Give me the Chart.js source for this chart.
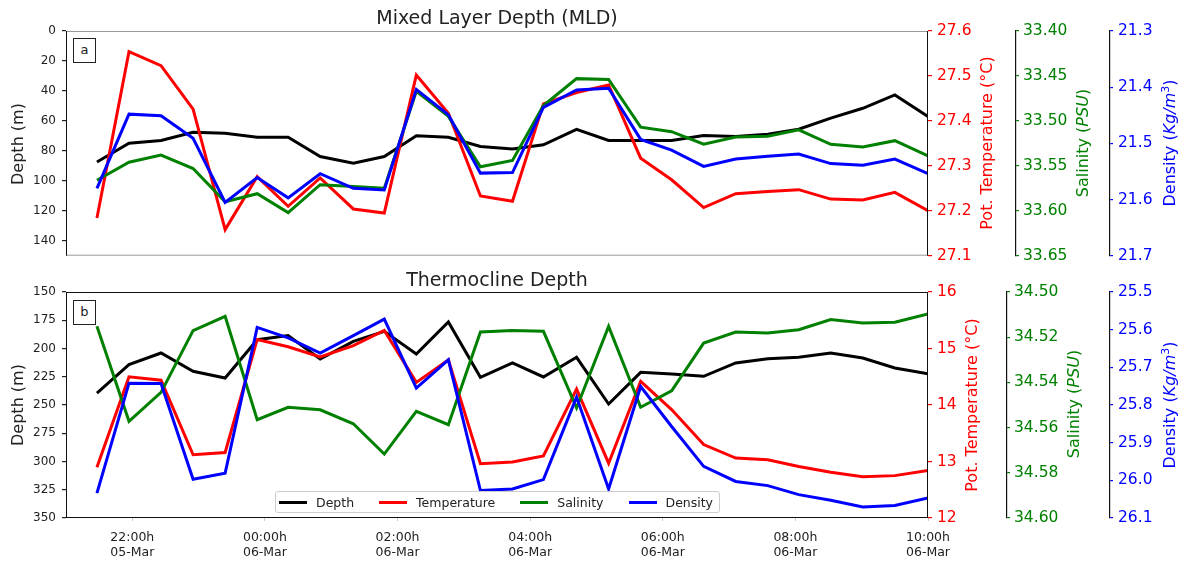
<!DOCTYPE html>
<html>
<head>
<meta charset="utf-8">
<title>MLD and Thermocline Depth</title>
<script src="https://cdn.jsdelivr.net/npm/chart.js@4.4.1/dist/chart.umd.min.js"></script>
<style>
  body { margin: 0; background: #fff; font-family: "DejaVu Sans", sans-serif; }
  #wrap { position: relative; width: 1183px; height: 563px; overflow: hidden; }
  canvas { position: absolute; left: 0; }
  .ttl { position: absolute; font-size: 19px; line-height: 19px; color: #222; transform: translateX(-50%); white-space: nowrap; }
  .ax { position: absolute; font-size: 16px; line-height: 16px; white-space: nowrap; transform: translate(-50%, -50%) rotate(-90deg); }
  .ax sup { font-size: 11px; line-height: 0; }
  .tag { position: absolute; box-sizing: border-box; border: 1px solid #222; width: 23px; height: 25px; font-size: 13px; line-height: 22px; text-align: center; color: #222; background: #fff; }
  #legend { position: absolute; left: 275px; top: 491px; width: 445px; height: 22px; box-sizing: border-box;
            border: 1px solid #ccc; border-radius: 3px; background: rgba(255,255,255,0.85);
            display: flex; align-items: center; padding-left: 3px; font-size: 12.5px; color: #222; }
  #legend .it { display: flex; align-items: center; margin-right: 25px; }
  #legend .it i { display: inline-block; width: 28px; height: 3px; margin-right: 9px; }
</style>
</head>
<body>
<div id="wrap">
  <canvas id="mldChart" width="1183" height="270" style="top:0"></canvas>
  <canvas id="thermoChart" width="1183" height="293" style="top:270px"></canvas>

  <div class="ttl" style="left:497px; top:8px">Mixed Layer Depth (MLD)</div>
  <div class="ttl" style="left:497px; top:270px">Thermocline Depth</div>
  <div class="tag" style="left:73px; top:38px">a</div>
  <div class="tag" style="left:73px; top:300px">b</div>

  <div class="ax" style="left:18px; top:144px; color:#222">Depth (m)</div>
  <div class="ax" style="left:987px; top:143px; color:#ff0000">Pot. Temperature (°C)</div>
  <div class="ax" style="left:1083px; top:143px; color:#008000">Salinity (<i>PSU</i>)</div>
  <div class="ax" style="left:1170px; top:143px; color:#0000ff">Density (<i>Kg/m</i><sup>3</sup>)</div>

  <div class="ax" style="left:18px; top:405px; color:#222">Depth (m)</div>
  <div class="ax" style="left:972px; top:405px; color:#ff0000">Pot. Temperature (°C)</div>
  <div class="ax" style="left:1074px; top:404px; color:#008000">Salinity (<i>PSU</i>)</div>
  <div class="ax" style="left:1170px; top:405px; color:#0000ff">Density (<i>Kg/m</i><sup>3</sup>)</div>

  <div id="legend"></div>
</div>

<script>
// sample times (05-Mar evening -> 06-Mar morning)
const times = ['21:28', '21:57', '22:26', '22:55', '23:24', '23:53', '00:21', '00:50', '01:20',
               '01:48', '02:17', '02:46', '03:15', '03:44', '04:12', '04:42', '05:11', '05:40',
               '06:08', '06:37', '07:06', '07:35', '08:03', '08:32', '09:01', '09:30', '10:00'];

// Mixed layer depth panel
const mldDepth = [87.5, 74.9, 73.1, 67.6, 68.2, 70.9, 70.9, 83.8, 88.2, 83.8, 70.0, 70.9, 77.1, 78.7,
                  76.0, 65.6, 73.1, 73.1, 73.1, 69.8, 70.4, 68.9, 65.6, 58.2, 51.6, 42.7, 57.1];
const mldTemp = [27.184, 27.554, 27.523, 27.426, 27.158, 27.276, 27.210, 27.273, 27.204, 27.195, 27.502,
                 27.417, 27.233, 27.221, 27.438, 27.463, 27.480, 27.317, 27.269, 27.207, 27.238, 27.243,
                 27.247, 27.226, 27.224, 27.241, 27.200];
const mldSal = [33.566, 33.546, 33.538, 33.553, 33.590, 33.581, 33.602, 33.571, 33.573, 33.575, 33.467,
                33.495, 33.551, 33.544, 33.483, 33.453, 33.454, 33.507, 33.512, 33.526, 33.518, 33.517,
                33.510, 33.526, 33.529, 33.522, 33.539];
const mldDen = [21.580, 21.448, 21.451, 21.491, 21.605, 21.561, 21.597, 21.554, 21.580, 21.583, 21.404,
                21.449, 21.553, 21.552, 21.436, 21.405, 21.402, 21.493, 21.512, 21.541, 21.528, 21.523,
                21.519, 21.536, 21.539, 21.528, 21.554];

// Thermocline depth panel
const thDepth = [239.4, 214.3, 204.0, 220.2, 226.1, 192.2, 188.6, 209.3, 193.7, 184.8, 204.9, 176.6,
                 225.5, 212.8, 225.2, 207.8, 249.1, 221.1, 222.6, 224.6, 212.8, 209.0, 207.8, 204.0,
                 208.4, 217.3, 222.3];
const thTemp = [12.90, 14.50, 14.44, 13.12, 13.16, 15.16, 15.03, 14.85, 15.05, 15.32, 14.40, 14.80,
                12.96, 12.99, 13.10, 14.28, 12.97, 14.42, 13.92, 13.30, 13.06, 13.03, 12.91, 12.81,
                12.73, 12.75, 12.84];
const thSal = [34.5152, 34.5572, 34.5444, 34.5171, 34.5108, 34.5565, 34.5510, 34.5521, 34.5583, 34.5717,
               34.5528, 34.5587, 34.5177, 34.5170, 34.5174, 34.5513, 34.5152, 34.5510, 34.5437, 34.5226,
               34.5177, 34.5181, 34.5167, 34.5122, 34.5137, 34.5134, 34.5097];
const thDen = [26.034, 25.742, 25.743, 25.997, 25.981, 25.594, 25.622, 25.662, 25.616, 25.572, 25.755,
               25.680, 26.027, 26.023, 25.998, 25.779, 26.023, 25.751, 25.857, 25.963, 26.003, 26.014,
               26.038, 26.053, 26.071, 26.067, 26.047];

// axis ticks
const xTickHours = [-2, 0, 2, 4, 6, 8, 10];
const xTickTimes = ['22:00h', '00:00h', '02:00h', '04:00h', '06:00h', '08:00h', '10:00h'];
const xTickDays = ['05-Mar', '06-Mar', '06-Mar', '06-Mar', '06-Mar', '06-Mar', '06-Mar'];

const mldDepthTicks = [0, 20, 40, 60, 80, 100, 120, 140];
const mldTempTicks = [27.1, 27.2, 27.3, 27.4, 27.5, 27.6];
const mldSalTicks = [33.40, 33.45, 33.50, 33.55, 33.60, 33.65];
const mldDenTicks = [21.3, 21.4, 21.5, 21.6, 21.7];

const thDepthTicks = [150, 175, 200, 225, 250, 275, 300, 325, 350];
const thTempTicks = [12, 13, 14, 15, 16];
const thSalTicks = [34.50, 34.52, 34.54, 34.56, 34.58, 34.60];
const thDenTicks = [25.5, 25.6, 25.7, 25.8, 25.9, 26.0, 26.1];

const names = ['Depth', 'Temperature', 'Salinity', 'Density'];
const colors = ['#000000', '#ff0000', '#008000', '#0000ff'];

Chart.defaults.font.family = '"DejaVu Sans", sans-serif';
Chart.defaults.color = '#222';

function toHours(t) {
    const [h, m] = t.split(':').map(Number);
    return (h >= 12 ? h - 24 : h) + m / 60;
}

function points(values) {
    return values.map((v, i) => ({ x: toHours(times[i]), y: v }));
}

// draws the box around the plot area
const frame = {
    id: 'frame',
    afterDatasetsDraw(chart, args, opts) {
        const { ctx, chartArea: a } = chart;
        ctx.save();
        ctx.lineWidth = 1;
        ctx.strokeStyle = opts.topBottom;
        ctx.beginPath();
        ctx.moveTo(a.left, a.top + 0.5); ctx.lineTo(a.right, a.top + 0.5);
        ctx.moveTo(a.left, a.bottom - 0.5); ctx.lineTo(a.right, a.bottom - 0.5);
        ctx.stroke();
        ctx.strokeStyle = '#111';
        ctx.beginPath();
        ctx.moveTo(a.left + 0.5, a.top); ctx.lineTo(a.left + 0.5, a.bottom);
        ctx.moveTo(a.right - 0.5, a.top); ctx.lineTo(a.right - 0.5, a.bottom);
        ctx.stroke();
        ctx.restore();
    }
};

function yAxis(pos, weight, width, min, max, reverse, tickList, decimals, color, size, pad, tickLen, border) {
    return {
        type: 'linear', position: pos, weight: weight, min: min, max: max, reverse: reverse,
        afterFit: s => { s.width = width; },
        afterBuildTicks: s => { s.ticks = tickList.map(v => ({ value: v })); },
        ticks: {
            color: color, padding: pad, font: { size: size },
            callback: v => Number(v).toFixed(decimals)
        },
        grid: { drawOnChartArea: false, tickLength: tickLen, tickColor: color, lineWidth: 1.2 },
        border: border ? { display: true, color: border, width: 1.2 } : { display: false }
    };
}

function makeChart(id, series, cfg) {
    const ids = ['yDepth', 'yTemp', 'ySal', 'yDen'];
    const datasets = series.map((vals, i) => ({
        label: names[i],
        data: points(vals),
        yAxisID: ids[i],
        borderColor: colors[i],
        backgroundColor: colors[i],
        borderWidth: 3,
        pointRadius: 0,
        tension: 0,
        order: 3 - i
    }));
    return new Chart(document.getElementById(id), {
        type: 'line',
        data: { datasets },
        options: {
            responsive: false,
            animation: false,
            layout: { padding: { top: cfg.padTop, left: 0, right: 0, bottom: 0 } },
            plugins: {
                legend: { display: false },
                tooltip: { enabled: false },
                frame: { topBottom: cfg.frameColor }
            },
            scales: {
                x: cfg.x,
                yDepth: yAxis('left', 0, 66, cfg.depth[0], cfg.depth[1], true, cfg.depthTicks, 0, '#222', 12, 6, 4, null),
                yTemp: yAxis('right', 0, cfg.widths[0], cfg.temp[0], cfg.temp[1], false, cfg.tempTicks, cfg.tempDec, '#ff0000', 15.5, 5, 4, null),
                ySal: yAxis('right', 1, cfg.widths[1], cfg.sal[0], cfg.sal[1], true, cfg.salTicks, 2, '#008000', 15.5, 4, 3, '#111'),
                yDen: yAxis('right', 2, cfg.widths[2], cfg.den[0], cfg.den[1], true, cfg.denTicks, 1, '#0000ff', 15.5, 5, 3, '#111')
            }
        },
        plugins: [frame]
    });
}

// panel a
makeChart('mldChart', [mldDepth, mldTemp, mldSal, mldDen], {
    padTop: 31,
    frameColor: '#999',
    widths: [88, 94, 73],
    depth: [0, 150], depthTicks: mldDepthTicks,
    temp: [27.1, 27.6], tempTicks: mldTempTicks, tempDec: 1,
    sal: [33.40, 33.65], salTicks: mldSalTicks,
    den: [21.3, 21.7], denTicks: mldDenTicks,
    x: {
        type: 'linear', min: -3, max: 10, display: true,
        afterFit: s => { s.height = 14; },
        ticks: { display: false },
        grid: { display: false },
        border: { display: false }
    }
});

// panel b
const thermo = makeChart('thermoChart', [thDepth, thTemp, thSal, thDen], {
    padTop: 22,
    frameColor: '#111',
    widths: [79, 103, 73],
    depth: [150, 350], depthTicks: thDepthTicks,
    temp: [12, 16], tempTicks: thTempTicks, tempDec: 0,
    sal: [34.50, 34.60], salTicks: thSalTicks,
    den: [25.5, 26.1], denTicks: thDenTicks,
    x: {
        type: 'linear', min: -3, max: 10,
        afterFit: s => { s.height = 45; },
        afterBuildTicks: s => { s.ticks = xTickHours.map(v => ({ value: v })); },
        ticks: {
            autoSkip: false, maxRotation: 0, padding: 9, color: '#222',
            font: { size: 12.5, lineHeight: 1.2 },
            callback: v => {
                const k = xTickHours.indexOf(v);
                return [xTickTimes[k], xTickDays[k]];
            }
        },
        grid: { drawOnChartArea: false, tickLength: 3, tickColor: '#ccc' },
        border: { display: false }
    }
});

// legend inside panel b
document.getElementById('legend').innerHTML = thermo.data.datasets
    .map(d => `<span class="it"><i style="background:${d.borderColor}"></i>${d.label}</span>`)
    .join('');
</script>
</body>
</html>
